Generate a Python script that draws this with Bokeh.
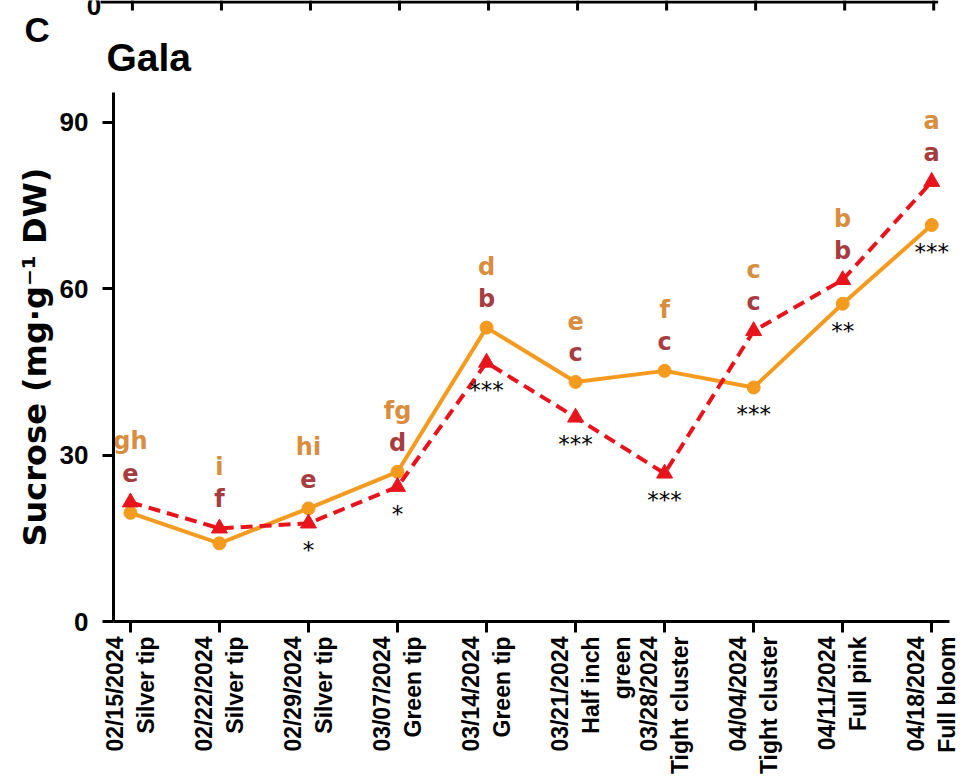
import numpy as np
from bokeh.plotting import figure
from bokeh.layouts import column
from bokeh.models import Range1d, FixedTicker, ColumnDataSource
from bokeh.core.properties import value
from bokeh.embed import file_html
from bokeh.resources import INLINE

# ---- data -------------------------------------------------------------
dates = ["02/15/2024", "02/22/2024", "02/29/2024", "03/07/2024", "03/14/2024",
         "03/21/2024", "03/28/2024", "04/04/2024", "04/11/2024", "04/18/2024"]
stages = ["Silver tip", "Silver tip", "Silver tip", "Green tip", "Green tip",
          "Half inch\ngreen", "Tight cluster", "Tight cluster", "Full pink", "Full bloom"]
orange_vals = [19.6, 14.1, 20.4, 27.0, 53.0, 43.2, 45.2, 42.2, 57.3, 71.5]
red_vals = [21.5, 16.8, 17.7, 24.3, 46.7, 36.8, 26.7, 52.4, 61.6, 79.3]
orange_letters = ["gh", "i", "hi", "fg", "d", "e", "f", "c", "b", "a"]
red_letters = ["e", "f", "e", "d", "b", "c", "c", "c", "b", "a"]
stars = ["", "", "*", "*", "***", "***", "***", "***", "**", "***"]
y_ticks = [0, 30, 60, 90]

ORANGE = "#F39A1F"
ORANGE_TXT = "#D88E3E"
RED = "#E8141C"
RED_TXT = "#A63D40"

idx = list(range(len(dates)))
src = ColumnDataSource(dict(
    x=idx,
    orange=orange_vals,
    red=red_vals,
    top=list(np.maximum(orange_vals, red_vals)),
    bottom=list(np.minimum(orange_vals, red_vals)),
    ol=orange_letters,
    rl=red_letters,
    stars=stars,
))


def tick_label(d, s):
    # three-line labels get a blank leading line so the date sits left of the tick
    text = f"{d}\n{s}"
    return "\n" + text if "\n" in s else text


X0, X1 = -0.19, 9.2
Y1 = 95.4
FRAME_W, FRAME_H = 836, 529
LEFT, RIGHT, HEAD = 113, 24, 92
W = LEFT + FRAME_W + RIGHT
px_per_x = FRAME_W / (X1 - X0)

# ---- main panel ------------------------------------------------------
p = figure(frame_width=FRAME_W, frame_height=FRAME_H,
           x_range=Range1d(X0, X1), y_range=Range1d(0, Y1),
           min_border_left=LEFT, min_border_right=RIGHT, min_border_top=0,
           min_border_bottom=0, output_backend="svg", toolbar_location=None,
           outline_line_color=None, background_fill_color="white")
p.frame_align = False
p.grid.visible = False

for ax in (p.xaxis[0], p.yaxis[0]):
    ax.axis_line_width = 3
    ax.axis_line_color = "black"
    ax.major_tick_line_width = 3
    ax.major_tick_line_color = "black"
    ax.major_tick_out = 11
    ax.major_tick_in = 0
    ax.minor_tick_line_color = None
    ax.major_label_text_font = "Liberation Sans"
    ax.major_label_text_font_style = "bold"
    ax.major_label_text_color = "black"

p.xaxis.ticker = FixedTicker(ticks=idx)
p.xaxis.major_label_overrides = {i: tick_label(d, s) for i, (d, s) in enumerate(zip(dates, stages))}
p.xaxis.major_label_orientation = np.pi / 2
p.xaxis.major_label_text_font_size = "23px"
p.xaxis.major_label_standoff = 4

p.yaxis.ticker = FixedTicker(ticks=y_ticks)
p.yaxis.major_label_text_font_size = "26px"
p.yaxis.major_label_standoff = 14
p.yaxis.axis_label = "Sucrose (mg\u00b7g\u207b\u00b9 DW)"
p.yaxis.axis_label_text_font = "DejaVu Sans"
p.yaxis.axis_label_text_font_style = "bold"
p.yaxis.axis_label_text_font_size = "32px"
p.yaxis.axis_label_text_color = "black"
p.yaxis.axis_label_standoff = 3

# series
p.line("x", "orange", line_color=ORANGE, line_width=4, source=src)
p.scatter("x", "orange", marker="circle", size=13, fill_color=ORANGE,
          line_color=ORANGE, source=src)
p.line("x", "red", line_color=RED, line_width=4, line_dash="12 7", source=src)
p.scatter("x", "red", marker="triangle", size=16, fill_color=RED,
          line_color=RED, source=src)

# significance letters above, asterisks below
letter_style = dict(text_font=value("DejaVu Sans"), text_font_style="bold",
                    text_font_size="24px", text_align="center",
                    text_baseline="alphabetic", source=src)
p.text("x", "top", text="rl", text_color=RED_TXT, y_offset=-29, **letter_style)
p.text("x", "top", text="ol", text_color=ORANGE_TXT, y_offset=-61, **letter_style)
p.text("x", "bottom", text="stars", text_color="black", y_offset=27,
       text_font=value("DejaVu Sans"), text_font_size="23px",
       text_align="center", text_baseline="alphabetic", source=src)

# ---- header: bottom edge of the panel above, panel letter, title ---------
# x mapping matches the main panel (shifted 2 px), y is pixels from the top
t_x0 = X0 - LEFT / px_per_x - 2 / px_per_x
t_x1 = X1 + RIGHT / px_per_x - 2 / px_per_x
t = figure(width=W, height=HEAD, x_range=Range1d(t_x0, t_x1), y_range=Range1d(-HEAD, 0),
           min_border=0, x_axis_location=None, y_axis_location=None,
           output_backend="svg", toolbar_location=None, outline_line_color=None)
t.frame_align = False
t.grid.visible = False


def hx(px):
    return t_x0 + px / px_per_x


t.segment(x0=idx, y0=[0] * len(idx), x1=idx, y1=[-10] * len(idx),
          line_color="black", line_width=3)
t.segment(x0=[hx(100)], y0=[-1.5], x1=[9.05], y1=[-1.5], line_color="black", line_width=3)
t.text(x=[hx(93.5)], y=[-5], text=["0"], text_font=value("Liberation Sans"),
       text_font_style="bold", text_font_size="26px", text_align="center",
       text_baseline="alphabetic", text_color="black")
t.text(x=[hx(24)], y=[-29], text=["C"], text_font=value("Liberation Sans"),
       text_font_style="bold", text_font_size="35px", text_align="left",
       text_baseline="alphabetic", text_color="black")
t.text(x=[hx(106)], y=[-57], text=["Gala"], text_font=value("Liberation Sans"),
       text_font_style="bold", text_font_size="39px", text_align="left",
       text_baseline="alphabetic", text_color="black")

layout = column(t, p, spacing=0)
open("out.html", "w").write(file_html(layout, INLINE))
